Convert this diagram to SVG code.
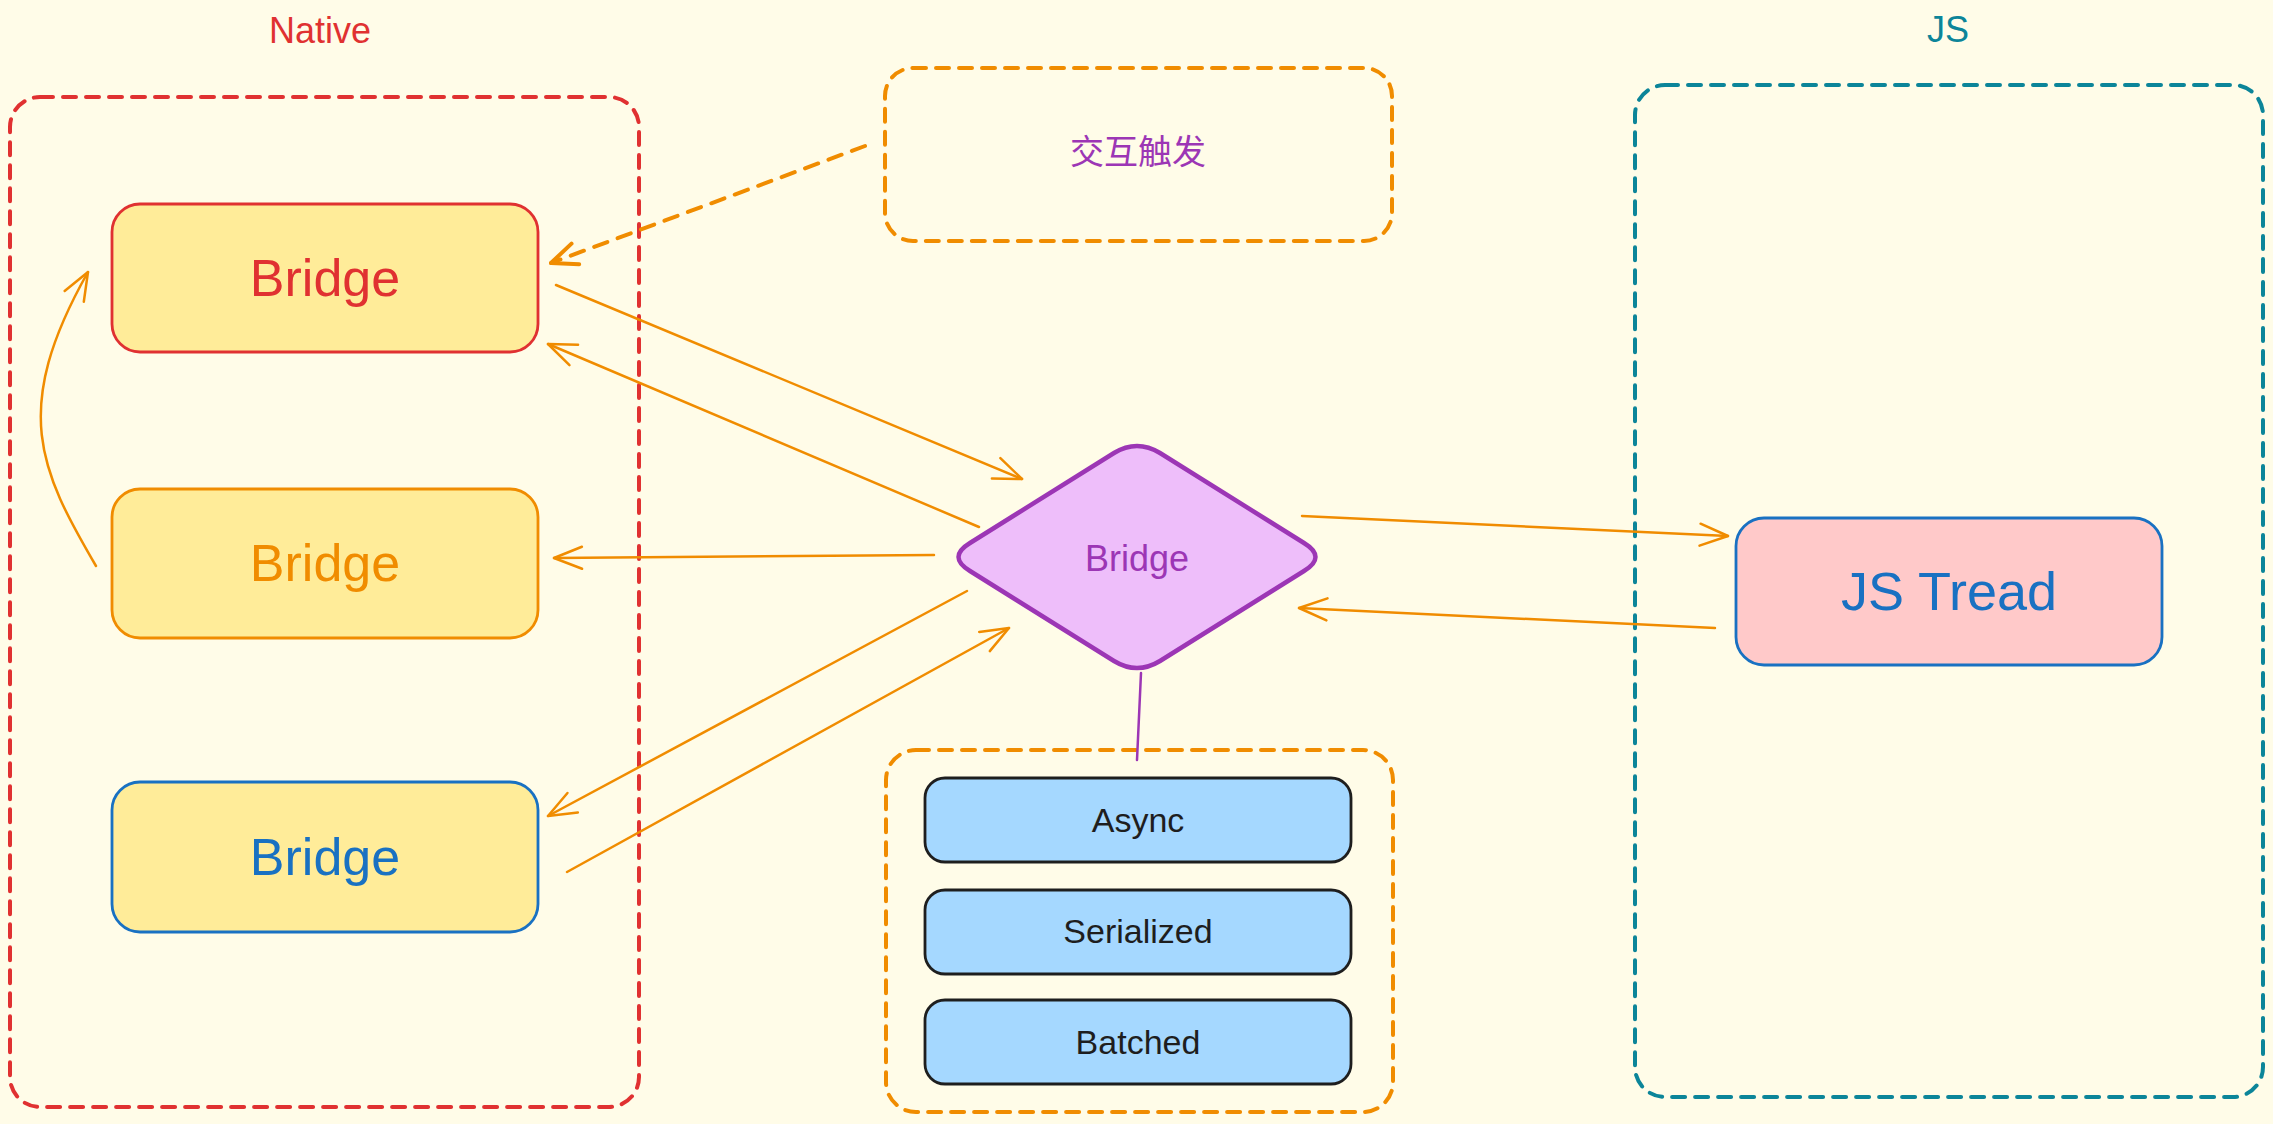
<svg xmlns="http://www.w3.org/2000/svg" width="2273" height="1124" viewBox="0 0 2273 1124">
<style>
.lbl{font-family:"Liberation Sans","Noto Sans CJK SC",sans-serif;text-anchor:middle;dominant-baseline:central}
.cont{fill:none;stroke-width:4;stroke-dasharray:13 10;stroke-linecap:round}
.box{stroke-width:2.8}
.yb{fill:#ffec99}
.sub{fill:#a5d8ff;stroke:#1e1e1e;stroke-width:2.8}
.conn{fill:none;stroke:#f08c00;stroke-width:2.5;stroke-linecap:round}
</style>
<defs>
<marker id="arr" viewBox="-32 -16 36 32" refX="0" refY="0" markerWidth="36" markerHeight="32" markerUnits="userSpaceOnUse" orient="auto">
<path d="M-28,-11 L0,0 L-28,11" fill="none" stroke="#f08c00" stroke-width="2.5" stroke-linecap="round" stroke-linejoin="round"/>
</marker>
<marker id="arrd" viewBox="-32 -16 36 32" refX="0" refY="0" markerWidth="36" markerHeight="32" markerUnits="userSpaceOnUse" orient="auto">
<path d="M-26,-11 L0,0 L-26,11" fill="none" stroke="#f08c00" stroke-width="4" stroke-linecap="round" stroke-linejoin="round"/>
</marker>
</defs>
<rect width="2273" height="1124" fill="#fffce8"/>

<g id="native-container">
<rect class="cont" x="10" y="97" width="629" height="1010" rx="30" stroke="#e03131"/>
<text class="lbl" x="320" y="30" font-size="36" fill="#e03131">Native</text>
</g>
<g id="js-container">
<rect class="cont" x="1635" y="85" width="628" height="1012" rx="30" stroke="#0c8599"/>
<text class="lbl" x="1948" y="29" font-size="36" fill="#0c8599">JS</text>
</g>
<g id="trigger">
<rect class="cont" x="885" y="68" width="507" height="173" rx="28" stroke="#f08c00"/>
<text class="lbl" x="1138" y="152" font-size="34" fill="#9c36b5">交互触发</text>
</g>
<g id="props-container">
<rect class="cont" x="886" y="750" width="507" height="362" rx="30" stroke="#f08c00"/>
</g>

<g id="bridge1">
<rect class="box yb" x="112" y="204" width="426" height="148" rx="28" stroke="#e03131"/>
<text class="lbl" x="325" y="278" font-size="52" fill="#e03131">Bridge</text>
</g>
<g id="bridge2">
<rect class="box yb" x="112" y="489" width="426" height="149" rx="28" stroke="#f08c00"/>
<text class="lbl" x="325" y="563" font-size="52" fill="#f08c00">Bridge</text>
</g>
<g id="bridge3">
<rect class="box yb" x="112" y="782" width="426" height="150" rx="28" stroke="#1971c2"/>
<text class="lbl" x="325" y="857" font-size="52" fill="#1971c2">Bridge</text>
</g>
<g id="bridge-center">
<path d="M970,543 L1114,453 Q1137,439 1160,453 L1304,543 Q1327,557 1304,571 L1160,661 Q1137,675 1114,661 L970,571 Q947,557 970,543 Z" fill="#eebefa" stroke="#9c36b5" stroke-width="4.5" stroke-linejoin="round"/>
<text class="lbl" x="1137" y="558" font-size="36" fill="#9c36b5">Bridge</text>
</g>
<g id="js-thread">
<rect class="box" x="1736" y="518" width="426" height="147" rx="28" fill="#ffc9c9" stroke="#1971c2"/>
<text class="lbl" x="1949" y="591" font-size="54" fill="#1971c2">JS Tread</text>
</g>
<g id="async">
<rect class="sub" x="925" y="778" width="426" height="84" rx="20"/>
<text class="lbl" x="1138" y="820" font-size="34" fill="#1e1e1e">Async</text>
</g>
<g id="serialized">
<rect class="sub" x="925" y="890" width="426" height="84" rx="20"/>
<text class="lbl" x="1138" y="931" font-size="34" fill="#1e1e1e">Serialized</text>
</g>
<g id="batched">
<rect class="sub" x="925" y="1000" width="426" height="84" rx="20"/>
<text class="lbl" x="1138" y="1042" font-size="34" fill="#1e1e1e">Batched</text>
</g>

<g id="connectors">
<path d="M865,146 L551,263" fill="none" stroke="#f08c00" stroke-width="4" stroke-dasharray="14 11" stroke-linecap="round" marker-end="url(#arrd)"/>
<path class="conn" d="M556,285 L1022,479" marker-end="url(#arr)"/>
<path class="conn" d="M979,527 L548,344" marker-end="url(#arr)"/>
<path class="conn" d="M934,555 L554,558" marker-end="url(#arr)"/>
<path class="conn" d="M967,591 L548,816" marker-end="url(#arr)"/>
<path class="conn" d="M567,872 L1009,628" marker-end="url(#arr)"/>
<path class="conn" d="M1302,516 L1728,536" marker-end="url(#arr)"/>
<path class="conn" d="M1715,628 L1299,608" marker-end="url(#arr)"/>
<path class="conn" d="M96,566 C40,470 10,410 88,272" marker-end="url(#arr)"/>
<path d="M1141,673 L1137,760" fill="none" stroke="#9c36b5" stroke-width="2.5" stroke-linecap="round"/>
</g>
</svg>
